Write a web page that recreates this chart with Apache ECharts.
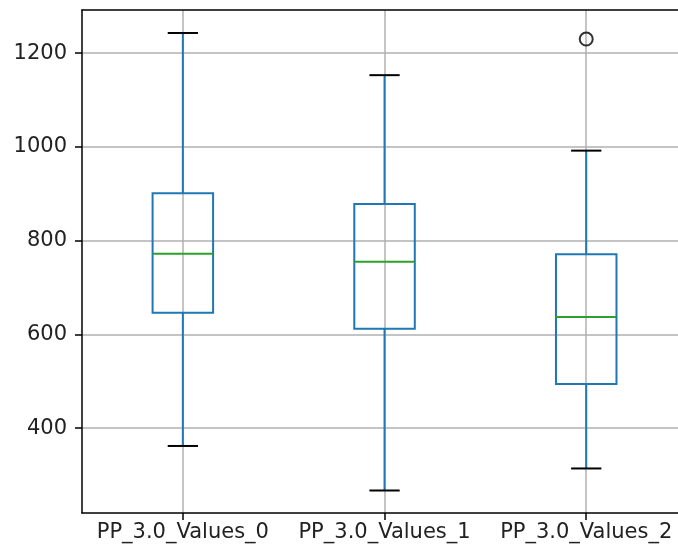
<!DOCTYPE html>
<html>
<head>
<meta charset="utf-8">
<script src="https://cdn.jsdelivr.net/npm/echarts@6/dist/echarts.min.js"></script>
<style>
  html, body { margin: 0; padding: 0; background: #fff; }
  #chart { width: 678px; height: 547px; }
</style>
</head>
<body>
<div id="chart"></div>
<script>
// categories and box stats
var categories = ['PP_3.0_Values_0', 'PP_3.0_Values_1', 'PP_3.0_Values_2'];
var lowWhisker = [362, 267, 314];
var q1Values = [646, 612, 494];
var medianValues = [772, 755, 637];
var q3Values = [901, 878, 771];
var highWhisker = [1243, 1153, 992];
var outliers = [[2, 1230]];

var BOX_BLUE = '#1f77b4';
var MEDIAN_GREEN = '#2ca02c';

// the original figure is cut off on the right, just past the last box
var X_MIN = -0.5;
var X_MAX = 2.455;

var boxData = [];
for (var i = 0; i < categories.length; i++) {
    boxData.push([i, lowWhisker[i], q1Values[i], medianValues[i], q3Values[i], highWhisker[i]]);
}

function renderBox(params, api) {
    var idx = api.value(0);
    var band = api.size([1, 0])[0];
    var boxW = band * 0.30;
    var capW = band * 0.15;

    var pLow = api.coord([idx, api.value(1)]);
    var pQ1 = api.coord([idx, api.value(2)]);
    var pMed = api.coord([idx, api.value(3)]);
    var pQ3 = api.coord([idx, api.value(4)]);
    var pHigh = api.coord([idx, api.value(5)]);
    var cx = pLow[0];

    var blueLine = { stroke: BOX_BLUE, lineWidth: 2, fill: null };
    var blackLine = { stroke: '#000', lineWidth: 2 };

    return {
        type: 'group',
        children: [
            // whiskers
            { type: 'line', shape: { x1: cx, y1: pLow[1], x2: cx, y2: pQ1[1] }, style: blueLine },
            { type: 'line', shape: { x1: cx, y1: pQ3[1], x2: cx, y2: pHigh[1] }, style: blueLine },
            // caps
            { type: 'line', shape: { x1: cx - capW / 2, y1: pLow[1], x2: cx + capW / 2, y2: pLow[1] }, style: blackLine },
            { type: 'line', shape: { x1: cx - capW / 2, y1: pHigh[1], x2: cx + capW / 2, y2: pHigh[1] }, style: blackLine },
            // box
            { type: 'rect', shape: { x: cx - boxW / 2, y: pQ3[1], width: boxW, height: pQ1[1] - pQ3[1] }, style: blueLine },
            // median
            { type: 'line', shape: { x1: cx - boxW / 2, y1: pMed[1], x2: cx + boxW / 2, y2: pMed[1] }, style: { stroke: MEDIAN_GREEN, lineWidth: 2 } }
        ]
    };
}

function isWhole(v) {
    return Math.abs(v - Math.round(v)) < 1e-6;
}

var chart = echarts.init(document.getElementById('chart'));
chart.setOption({
    animation: false,
    backgroundColor: '#fff',
    grid: {
        left: 82, right: 0, top: 10, bottom: 34
    },
    xAxis: [
        {
            // value axis so grid lines sit on the box centres, like matplotlib
            type: 'value',
            min: X_MIN,
            max: X_MAX,
            splitNumber: 3,
            axisLine: { onZero: false, lineStyle: { color: '#000', width: 1.5 } },
            axisTick: { length: 7, lineStyle: { color: '#000', width: 1.5 } },
            axisLabel: {
                color: '#222', fontFamily: 'DejaVu Sans', fontSize: 21, margin: 9,
                showMinLabel: false, showMaxLabel: false,
                formatter: function (v) {
                    return isWhole(v) && categories[Math.round(v)] ? categories[Math.round(v)] : '';
                }
            },
            splitLine: {
                show: true, showMinLine: false, showMaxLine: false,
                lineStyle: { color: '#b0b0b0', width: 1.5 }
            }
        },
        {
            // top spine only
            type: 'value',
            position: 'top',
            min: X_MIN,
            max: X_MAX,
            axisLine: { show: true, onZero: false, lineStyle: { color: '#000', width: 1.5 } },
            axisTick: { show: false },
            axisLabel: { show: false },
            splitLine: { show: false }
        }
    ],
    yAxis: {
        type: 'value',
        min: 219,
        max: 1292,
        splitNumber: 5,
        axisLine: { show: true, onZero: false, lineStyle: { color: '#000', width: 1.5 } },
        axisTick: { show: true, length: 7, lineStyle: { color: '#000', width: 1.5 } },
        axisLabel: {
            color: '#222', fontFamily: 'DejaVu Sans', fontSize: 21, margin: 15,
            showMinLabel: false, showMaxLabel: false,
            formatter: function (v) { return String(v); }
        },
        splitLine: {
            show: true, showMinLine: false, showMaxLine: false,
            lineStyle: { color: '#b0b0b0', width: 1.5 }
        }
    },
    series: [
        {
            type: 'custom',
            renderItem: renderBox,
            encode: { x: 0, y: [1, 2, 3, 4, 5] },
            data: boxData,
            z: 3
        },
        {
            type: 'scatter',
            data: outliers,
            symbol: 'circle',
            symbolSize: 13,
            itemStyle: { color: 'rgba(0,0,0,0)', borderColor: '#000', borderWidth: 2 },
            z: 4
        }
    ]
});
</script>
</body>
</html>
